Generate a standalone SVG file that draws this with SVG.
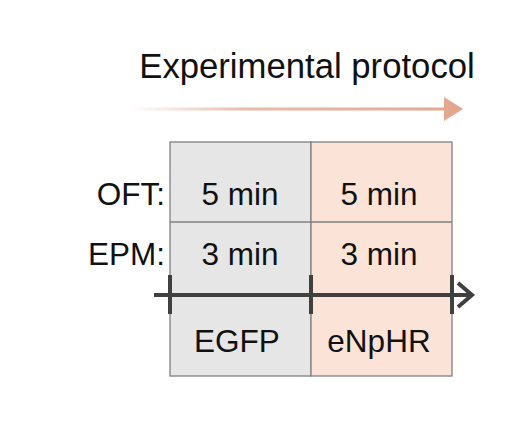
<svg xmlns="http://www.w3.org/2000/svg" width="511" height="432" viewBox="0 0 511 432">
<defs>
<linearGradient id="g" x1="127" y1="0" x2="463" y2="0" gradientUnits="userSpaceOnUse">
<stop offset="0" stop-color="#e2ab95" stop-opacity="0"/>
<stop offset="0.35" stop-color="#e2ab95" stop-opacity="0.8"/>
<stop offset="1" stop-color="#e2a68e"/>
</linearGradient>
<style>
text{font-family:"Liberation Sans",Arial,sans-serif;fill:#111}
.c{text-anchor:middle;font-size:31.5px}
.l{text-anchor:end;font-size:31.5px}
.cell{stroke:#808080;stroke-width:1.3}
.tick{stroke:#404040;stroke-width:4}
</style>
</defs>
<rect width="511" height="432" fill="#fff"/>
<text x="307" y="78" text-anchor="middle" font-size="34.7">Experimental protocol</text>
<g id="protocol-arrow">
<path d="M127 107.5 L444 107.5 L444 97 L463 109 L444 121 L444 110.5 L127 110.5 Z" fill="url(#g)"/>
</g>
<g id="egfp-col">
<rect class="cell" x="170" y="142" width="141" height="234" fill="#e6e6e6"/>
<line class="cell" x1="170" y1="222" x2="311" y2="222"/>
<text class="c" x="240" y="205">5 min</text>
<text class="c" x="240" y="265">3 min</text>
<text class="c" x="237" y="352">EGFP</text>
</g>
<g id="enphr-col">
<rect class="cell" x="311" y="142" width="141" height="234" fill="#fbe4d7"/>
<line class="cell" x1="311" y1="222" x2="452" y2="222"/>
<text class="c" x="379" y="205">5 min</text>
<text class="c" x="379" y="265">3 min</text>
<text class="c" x="379" y="352">eNpHR</text>
</g>
<g id="labels">
<text class="l" x="165" y="205">OFT:</text>
<text class="l" x="165" y="265">EPM:</text>
</g>
<g id="connectors">
<line x1="154" y1="295" x2="471" y2="295" stroke="#404040" stroke-width="4"/>
<path d="M458 283 L472 295 L458 307" fill="none" stroke="#404040" stroke-width="4"/>
<line class="tick" x1="170" y1="275" x2="170" y2="314"/>
<line class="tick" x1="311" y1="275" x2="311" y2="314"/>
<line class="tick" x1="452" y1="275" x2="452" y2="314"/>
</g>
</svg>
